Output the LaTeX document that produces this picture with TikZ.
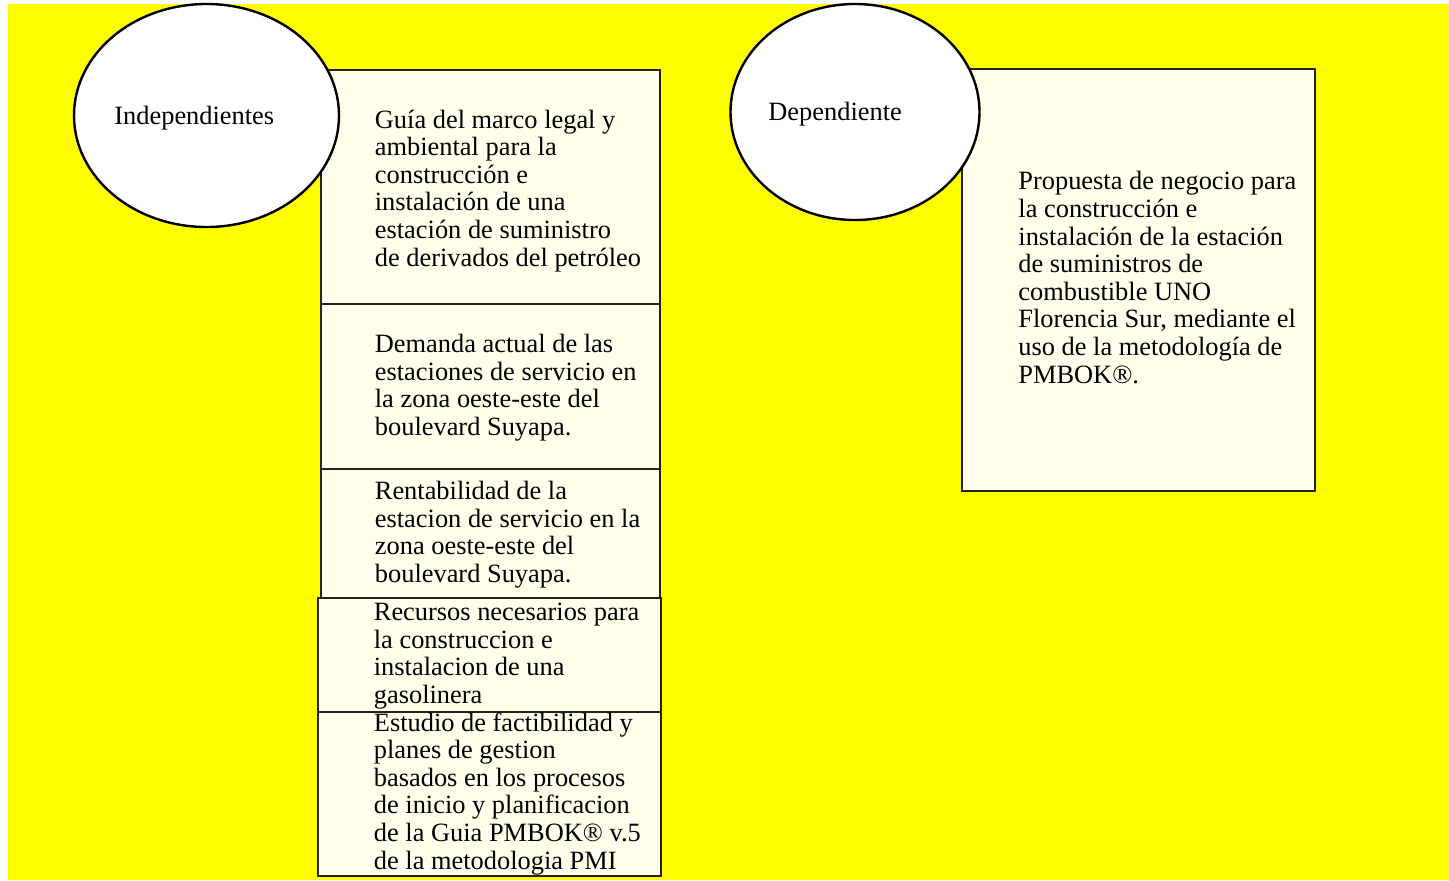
\documentclass[tikz,border=0pt]{standalone}
\usepackage{fontspec}
\setmainfont{Liberation Serif}
\usepackage{xcolor}
\usepackage{tikz}
\usetikzlibrary{shapes.geometric}
\definecolor{fondo}{HTML}{FFFF00}
\definecolor{crema}{HTML}{FFFFEB}
\definecolor{borde}{HTML}{222222}
\tikzset{
  varbox/.style={draw=borde, line width=1pt, fill=crema, inner sep=0pt, anchor=north west},
  varellipse/.style={ellipse, draw=black, line width=1.2pt, fill=white, inner sep=0pt},
  vartext/.style={anchor=base west, align=left, inner sep=0pt, font=\fontsize{13.2pt}{13.8pt}\selectfont}
}

\begin{document}
\begin{tikzpicture}[x=0.5pt,y=-0.5pt]
\useasboundingbox (0,0) rectangle (1449,880);
\fill[fondo] (8,4) rectangle (1449,880);
% variables independientes
\node[varbox, minimum width=169.5pt, minimum height=117pt] (guia) at (320,69) {};
\node[varbox, minimum width=169.5pt, minimum height=82.5pt] (demanda) at (320,303) {};
\node[varbox, minimum width=169.5pt, minimum height=64.5pt] (rentab) at (320,468) {};
\node[varbox, minimum width=171.5pt, minimum height=57pt] (recursos) at (317,597) {};
\node[varbox, minimum width=171.5pt, minimum height=82pt] (estudio) at (317,711) {};
% variable dependiente
\node[varbox, minimum width=176.5pt, minimum height=211pt] (propuesta) at (961,68) {};
\node[varellipse, minimum width=132.5pt, minimum height=111.5pt] (indep) at (206.5,115.5) {};
\node[varellipse, minimum width=124.5pt, minimum height=108pt] (dep) at (855,112) {};
% textos (anclados en la linea base de la ultima linea)
\node[vartext] (indeptxt) at (114,124) {Independientes};
\node[vartext] (deptxt) at (768,120) {Dependiente};
\node[vartext] (guiatxt) at (374.5,266) {Guía del marco legal y\\ambiental para la\\construcción e\\instalación de una\\estación de suministro\\de derivados del petróleo};
\node[vartext] (demandatxt) at (374.5,435.5) {Demanda actual de las\\estaciones de servicio en\\la zona oeste-este del\\boulevard Suyapa.};
\node[vartext] (rentabtxt) at (374.5,582.5) {Rentabilidad de la\\estacion de servicio en la\\zona oeste-este del\\boulevard Suyapa.};
\node[vartext] (recursostxt) at (373.5,703.5) {Recursos necesarios para\\la construccion e\\instalacion de una\\gasolinera};
\node[vartext] (estudiotxt) at (373.5,869) {Estudio de factibilidad y\\planes de gestion\\basados en los procesos\\de inicio y planificacion\\de la Guia PMBOK® v.5\\de la metodologia PMI};
\node[vartext] (propuestatxt) at (1018,383) {Propuesta de negocio para\\la construcción e\\instalación de la estación\\de suministros de\\combustible UNO\\Florencia Sur, mediante el\\uso de la metodología de\\PMBOK®.};
\end{tikzpicture}
\end{document}
